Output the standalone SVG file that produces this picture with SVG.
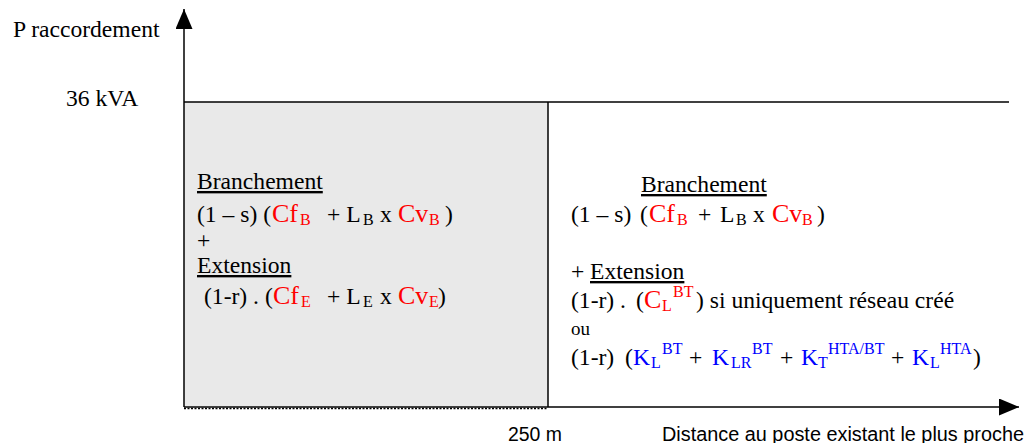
<svg xmlns="http://www.w3.org/2000/svg" width="1029" height="443" viewBox="0 0 1029 443">
<style>
.t{font-family:"Liberation Serif","Times New Roman",serif;font-size:23.6px;fill:#000}
.a{font-family:"Liberation Sans",Arial,sans-serif;font-size:20px;fill:#000}
.s{font-size:16px}
.g{font-size:26px}
.r{fill:#ff0000}
.b{fill:#0000ff}
.u{text-decoration:underline}
.ln{stroke:#000;stroke-width:1.5;fill:none}
</style>
<defs>
<marker id="arr" markerUnits="userSpaceOnUse" markerWidth="20" markerHeight="17" refX="20" refY="8.5" orient="auto">
<path d="M0,0 L20,8.5 L0,17 Z" fill="#000"/>
</marker>
</defs>
<g id="zone-gris">
<rect x="184" y="102" width="364" height="304" fill="#e9e9e9"/>
<line x1="184" y1="408.5" x2="548" y2="408.5" stroke="#000" stroke-width="1.5" stroke-dasharray="2,1.5"/>
</g>
<g id="connectors">
<line class="ln" x1="184" y1="407" x2="184" y2="9" marker-end="url(#arr)"/>
<line class="ln" x1="184" y1="407" x2="1019" y2="407" marker-end="url(#arr)"/>
<line class="ln" x1="184" y1="102" x2="1009" y2="102"/>
<line class="ln" x1="548" y1="102" x2="548" y2="407"/>
</g>
<g id="axis-labels">
<text class="t" x="13" y="37">P raccordement</text>
<text class="t" x="66" y="106">36 kVA</text>
<text class="a" x="508" y="441" textLength="54" lengthAdjust="spacingAndGlyphs">250 m</text>
<text class="a" x="662" y="441" textLength="362" lengthAdjust="spacingAndGlyphs">Distance au poste existant le plus proche</text>
</g>
<g id="zone-gauche">
<text class="t u" x="197" y="189">Branchement</text>
<text class="t" x="197" y="222">(1 – s) (<tspan class="r g" x="272">Cf</tspan><tspan class="r s" x="300" dy="3">B</tspan><tspan x="327" dy="-3">+ L</tspan><tspan class="s" x="363" dy="3">B</tspan><tspan x="380" dy="-3">x</tspan><tspan class="r g" x="398">Cv</tspan><tspan class="r s" x="429" dy="3">B</tspan><tspan x="445" dy="-3">)</tspan></text>
<text class="t" x="197" y="248">+</text>
<text class="t u" x="197" y="273">Extension</text>
<text class="t" x="204" y="304">(1-r) . (<tspan class="r g" x="273">Cf</tspan><tspan class="r s" x="301" dy="3">E</tspan><tspan x="327" dy="-3">+ L</tspan><tspan class="s" x="363" dy="3">E</tspan><tspan x="380" dy="-3">x</tspan><tspan class="r g" x="398">Cv</tspan><tspan class="r s" x="429" dy="3">E</tspan><tspan x="438" dy="-3">)</tspan></text>
</g>
<g id="zone-droite">
<text class="t u" x="641" y="192">Branchement</text>
<text class="t" x="571" y="222">(1 – s)<tspan x="640">(</tspan><tspan class="r g" x="649">Cf</tspan><tspan class="r s" x="677" dy="3">B</tspan><tspan x="698" dy="-3">+</tspan><tspan x="720">L</tspan><tspan class="s" x="736" dy="3">B</tspan><tspan x="753" dy="-3">x</tspan><tspan class="r g" x="772">Cv</tspan><tspan class="r s" x="802" dy="3">B</tspan><tspan x="817" dy="-3">)</tspan></text>
<text class="t" x="571" y="279">+ <tspan class="u" x="590">Extension</tspan></text>
<text class="t" x="571" y="308">(1-r) .<tspan x="636">(</tspan><tspan class="r g" x="644">C</tspan><tspan class="r s" x="662" dy="3">L</tspan><tspan class="r s" x="673" dy="-14">BT</tspan><tspan x="696" dy="11">) si uniquement réseau créé</tspan></text>
<text class="t" x="571" y="335" style="font-size:19px">ou</text>
<text class="t" x="571" y="365">(1-r)<tspan x="625">(</tspan><tspan class="b" x="633">K</tspan><tspan class="b s" x="651" dy="3">L</tspan><tspan class="b s" x="662" dy="-14">BT</tspan><tspan x="689" dy="11">+</tspan><tspan class="b" x="712">K</tspan><tspan class="b s" x="731" dy="3">LR</tspan><tspan class="b s" x="752" dy="-14">BT</tspan><tspan x="780" dy="11">+</tspan><tspan class="b" x="801">K</tspan><tspan class="b s" x="818" dy="3">T</tspan><tspan class="b s" x="828" dy="-14">HTA/BT</tspan><tspan x="891" dy="11">+</tspan><tspan class="b" x="912">K</tspan><tspan class="b s" x="930" dy="3">L</tspan><tspan class="b s" x="940" dy="-14">HTA</tspan><tspan x="973" dy="11">)</tspan></text>
</g>
</svg>
